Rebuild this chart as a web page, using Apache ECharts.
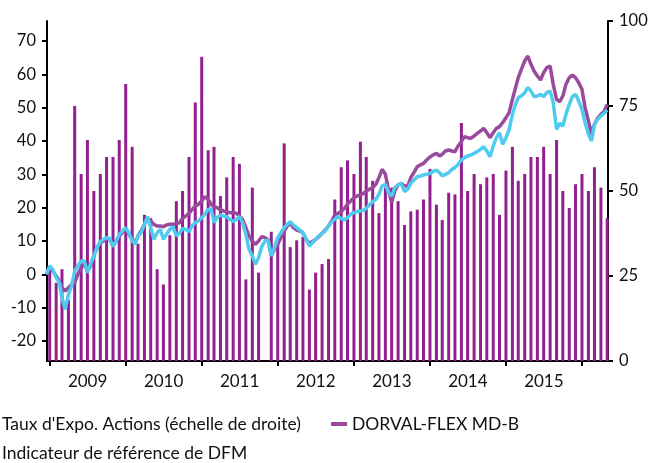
<!DOCTYPE html>
<html>
<head>
<meta charset="utf-8">
<script src="https://cdn.jsdelivr.net/npm/echarts@6/dist/echarts.min.js"></script>
<style>
html, body { margin: 0; padding: 0; background: #fff; }
#chart { width: 648px; height: 463px; }
</style>
</head>
<body>
<div id="chart"></div>
<script>
// taux d'exposition actions, un point par mois depuis janv. 2009 (échelle de droite)
const exposition = [
    27, 23, 27, 18, 75, 55, 65, 50, 55, 60, 60, 65,
    81.5, 63, 34.5, 43, 42, 27, 22.5, 37, 47, 50, 60, 76,
    89.5, 62, 63, 48.5, 54, 60, 58, 24, 51, 26, 0, 38,
    36, 64, 33.5, 35.5, 36.5, 21, 26, 28.5, 30, 47.5, 57, 59,
    55, 64.5, 60, 53, 43.5, 51, 51, 47, 40, 44, 44.5, 47.5,
    56.5, 46, 41.5, 49.5, 49, 70, 50, 55, 52, 54, 55, 43,
    56, 63, 53, 55, 60, 60, 63, 55, 65, 50, 45, 52,
    55, 50, 57, 51, 42
]

// performances cumulées (%), points au 1er et au 16 de chaque mois, depuis le 16/12/2008
const dorval = [
    0, 2, 1, -0.5, -2, -4, -5, -4, -3, -2.5, 0, 2, 3, 1, 2.5, 5.5, 8, 9.5, 10, 10.5,
    10.5, 8.5, 10, 11.5, 12.5, 13.5, 12, 10.5, 9.5, 11.5, 13, 15, 16.8, 16, 15, 14.5, 14.5, 14.3, 14.8, 15,
    15, 15.3, 15.5, 16.8, 17.5, 18.3, 19.5, 20.5, 21, 22, 23.3, 22.5, 21, 20.3, 20, 19.3, 19, 18.8, 18.5, 18.5,
    18.3, 17.5, 16.5, 14, 11.5, 10, 9, 10, 11.3, 11, 10.3, 5.5, 7.5, 9, 11, 13, 14.5, 15.3, 14, 13.3,
    13, 12.5, 10.5, 9.3, 9.8, 10.5, 11.3, 12.3, 13.3, 14.5, 16, 17.8, 18.3, 18.8, 19.8, 21, 22, 23, 23.5, 23.8,
    24.3, 25, 25.5, 26, 27, 29, 31.5, 30, 25.3, 21.5, 25, 26.8, 27.3, 26.5, 26.5, 29, 30.5, 32.3, 32.8, 33.3,
    34.3, 35.2, 35.8, 36.3, 35.5, 36, 37, 37.3, 37, 36.8, 38.5, 39.8, 41.3, 41, 40.8, 41.5, 42.3, 43, 43.8, 42.5,
    41, 42.5, 43.8, 44.3, 45.5, 47, 48.5, 52.5, 56, 59, 61.5, 64, 65.5, 63, 61, 59.5, 58.3, 60.5, 62, 62.5,
    57, 52.5, 51.8, 53.5, 57, 59, 59.8, 59, 57.5, 55.5, 50, 46, 42, 45, 46.8, 48, 48.8, 51
]
const indicateur = [
    0, 2.5, 1.5, -1, -2.5, -7, -10.5, -6, -3.5, 1, 2.5, 4, 4, 0.5, 3, 5.5, 8, 9.8, 10.5, 11,
    10.8, 8.3, 10, 12, 13, 14, 12.5, 10, 9, 11.5, 12.5, 15, 17.3, 14, 10.5, 12.5, 13.5, 10.5, 12, 13.5,
    14.3, 11.5, 12.3, 13.8, 13.5, 12.8, 14.5, 15.5, 16, 17, 18, 19.5, 19.5, 15.5, 17, 17.8, 17.5, 17.3, 16.5, 15.8,
    16.5, 17.3, 15.5, 12, 7.5, 5.5, 3, 5, 8.3, 10, 10.3, 5.5, 8, 11, 12.5, 14, 15, 15.8, 14.8, 14,
    13.3, 12.5, 10.5, 8.5, 9.5, 10.5, 11.5, 12.3, 13, 14.5, 15.8, 16.5, 17.3, 16.8, 16.3, 17, 18, 18.5, 18.8, 19,
    19.2, 19.8, 20.8, 21.8, 22.5, 24, 26.5, 27, 24.5, 23.5, 26, 26.8, 27.3, 24.8, 25.5, 27.3, 28.3, 29.3, 29.5, 29.8,
    30, 30.3, 30.8, 31.3, 30.5, 29.5, 30, 30.5, 31.5, 32, 33, 34.3, 35, 35.5, 35.8, 36.3, 36.8, 37.5, 38.3, 37,
    35.3, 38.5, 41, 42.5, 39, 41, 43.3, 48, 51, 53, 53.5, 54.5, 56, 55, 53.3, 53.5, 54, 53.3, 54.5, 55,
    51.5, 43.5, 45.3, 44.5, 48, 51, 53.3, 54, 52, 49.5, 45.5, 42, 40, 45, 46.5, 47.5, 48.3, 49.3
]

const years = [2009, 2010, 2011, 2012, 2013, 2014, 2015]
const leftTicks = [-20, -10, 0, 10, 20, 30, 40, 50, 60, 70]

const font = 'Lato'
const txt = '#111'

function monthDate(i) {
    return new Date(2009, i, 1).getTime()
}
// k = 0 -> 16/12/2008, puis 1er / 16 alternés
function halfMonthDate(k) {
    let m = Math.floor((k - 1) / 2)
    return new Date(2009, m, k % 2 === 1 ? 1 : 16).getTime()
}

let chart = echarts.init(document.getElementById('chart'))

let legendText = { fontSize: 17.5, color: txt, fontFamily: font }

let option = {
    animation: false,
    textStyle: { fontFamily: font },
    grid: {
        left: 47,
        right: 40,
        top: 21,
        bottom: 102,
        outerBoundsMode: 'none'
    },
    legend: [
        {
            data: [{ name: "Taux d'Expo. Actions (échelle de droite)", icon: 'none' }],
            left: -3, top: 415, padding: 0, itemWidth: 0,
            textStyle: legendText
        },
        {
            data: [{ name: 'DORVAL-FLEX MD-B', icon: 'rect' }],
            left: 331, top: 415, padding: 0, itemWidth: 16, itemHeight: 4,
            textStyle: legendText
        },
        {
            data: [{ name: 'Indicateur de référence de DFM', icon: 'none' }],
            left: -3, top: 444, padding: 0, itemWidth: 0,
            textStyle: legendText
        }
    ],
    // axe des dates en timestamps (axe 'value' pour placer les années au milieu)
    xAxis: {
        type: 'value',
        scale: true,
        min: new Date(2008, 11, 19).getTime(),
        max: new Date(2016, 4, 5).getTime(),
        axisLine: { onZero: false, lineStyle: { color: '#000', width: 2 } },
        axisTick: {
            show: true,
            length: 5,
            customValues: years.concat([2016]).map(y => new Date(y, 0, 1).getTime()),
            lineStyle: { color: '#000', width: 2 }
        },
        axisLabel: {
            customValues: years.map(y => new Date(y, 6, 2).getTime()),
            formatter: (v) => String(new Date(v).getFullYear()),
            fontSize: 17,
            color: txt,
            margin: 12
        },
        splitLine: { show: false }
    },
    yAxis: [
        {
            type: 'value',
            min: -26,
            max: 76,
            axisLine: { show: true, lineStyle: { color: '#000', width: 2 } },
            axisTick: { show: true, length: 5, customValues: leftTicks, lineStyle: { color: '#000', width: 2 } },
            axisLabel: { customValues: leftTicks, fontSize: 16.5, color: txt, margin: 11 },
            splitLine: { show: false }
        },
        {
            type: 'value',
            position: 'right',
            min: 0,
            max: 100,
            interval: 25,
            axisLine: { show: true, lineStyle: { color: '#000', width: 2 } },
            axisTick: { show: true, length: 5, lineStyle: { color: '#000', width: 2 } },
            axisLabel: { fontSize: 16.5, color: txt, margin: 11 },
            splitLine: { show: false }
        }
    ],
    series: [
        {
            name: "Taux d'Expo. Actions (échelle de droite)",
            type: 'bar',
            yAxisIndex: 1,
            barWidth: 3,
            itemStyle: { color: '#93208F' },
            data: exposition.map((v, i) => [monthDate(i), v])
        },
        {
            name: 'DORVAL-FLEX MD-B',
            type: 'line',
            yAxisIndex: 0,
            symbol: 'none',
            lineStyle: { color: '#9A4A9C', width: 3.5 },
            itemStyle: { color: '#9A4A9C' },
            data: dorval.map((v, k) => [halfMonthDate(k), v])
        },
        {
            name: 'Indicateur de référence de DFM',
            type: 'line',
            yAxisIndex: 0,
            symbol: 'none',
            lineStyle: { color: '#4FCBF0', width: 3.5 },
            itemStyle: { color: '#4FCBF0' },
            data: indicateur.map((v, k) => [halfMonthDate(k), v])
        }
    ]
}
chart.setOption(option)
</script>
</body>
</html>
